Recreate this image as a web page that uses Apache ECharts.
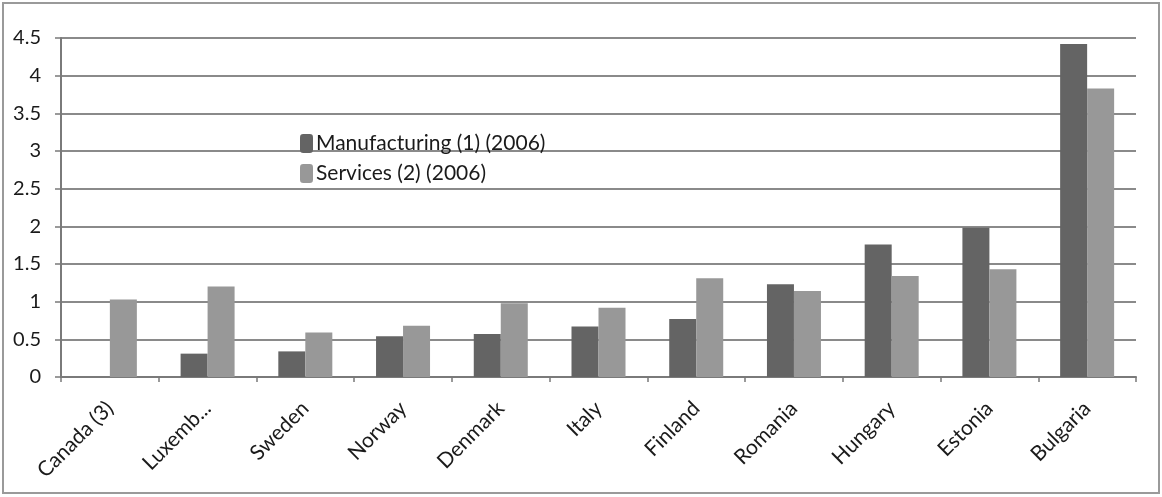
<!DOCTYPE html>
<html>
<head>
<meta charset="utf-8">
<script src="https://cdn.jsdelivr.net/npm/echarts@6/dist/echarts.min.js"></script>
<style>
html,body{margin:0;padding:0;background:#fff;}
#chart{width:1162px;height:497px;}
</style>
</head>
<body>
<div id="chart"></div>
<script>
const categories = ['Canada (3)', 'Luxemb...', 'Sweden', 'Norway', 'Denmark', 'Italy', 'Finland', 'Romania', 'Hungary', 'Estonia', 'Bulgaria'];
const manufacturing = [null, 0.31, 0.34, 0.54, 0.57, 0.67, 0.77, 1.23, 1.76, 1.98, 4.42];
const services = [1.03, 1.20, 0.59, 0.68, 0.98, 0.92, 1.31, 1.14, 1.34, 1.43, 3.83];
const yTicks = [0, 0.5, 1, 1.5, 2, 2.5, 3, 3.5, 4, 4.5];
const seriesNames = ['Manufacturing (1) (2006)', 'Services (2) (2006)'];

const FONT = 'Lato';
const chart = echarts.init(document.getElementById('chart'));
chart.setOption({
  animation: false,
  textStyle: { fontFamily: FONT },
  graphic: [{
    type: 'rect', z: -1,
    shape: { x: 3, y: 3, width: 1156, height: 490 },
    style: { fill: 'none', stroke: '#9a9a9a', lineWidth: 2 }
  }],
  grid: { left: 61, right: 26, top: 38, bottom: 120 },
  legend: {
    orient: 'vertical',
    left: 295, top: 128,
    itemWidth: 13, itemHeight: 19,
    itemGap: 9,
    textStyle: { fontFamily: FONT, fontSize: 21, lineHeight: 19, color: '#1a1a1a', padding: [0, 0, 0, -2] },
    data: seriesNames
  },
  xAxis: {
    type: 'category',
    data: categories,
    boundaryGap: true,
    axisLine: { lineStyle: { color: '#7a7a7a', width: 2 } },
    axisTick: { show: true, length: 5, lineStyle: { color: '#7a7a7a', width: 1.5 } },
    axisLabel: { rotate: 45, fontSize: 21, color: '#1a1a1a', margin: 28, interval: 0 }
  },
  yAxis: {
    type: 'value',
    min: 0, max: 4.5, interval: 0.5,
    axisLine: { show: true, lineStyle: { color: '#7a7a7a', width: 2 } },
    axisTick: { show: true, length: 6, lineStyle: { color: '#7a7a7a', width: 1.5 } },
    splitLine: { lineStyle: { color: '#8a8a8a', width: 2 } },
    axisLabel: {
      fontSize: 20, color: '#1a1a1a', margin: 20,
      formatter: v => yTicks.includes(v) ? String(v) : ''
    }
  },
  series: [
    { name: seriesNames[0], type: 'bar', data: manufacturing, barWidth: 27, barGap: '0%',
      itemStyle: { color: '#646464' } },
    { name: seriesNames[1], type: 'bar', data: services, barWidth: 27, barGap: '0%',
      itemStyle: { color: '#989898' } }
  ]
});
</script>
</body>
</html>
